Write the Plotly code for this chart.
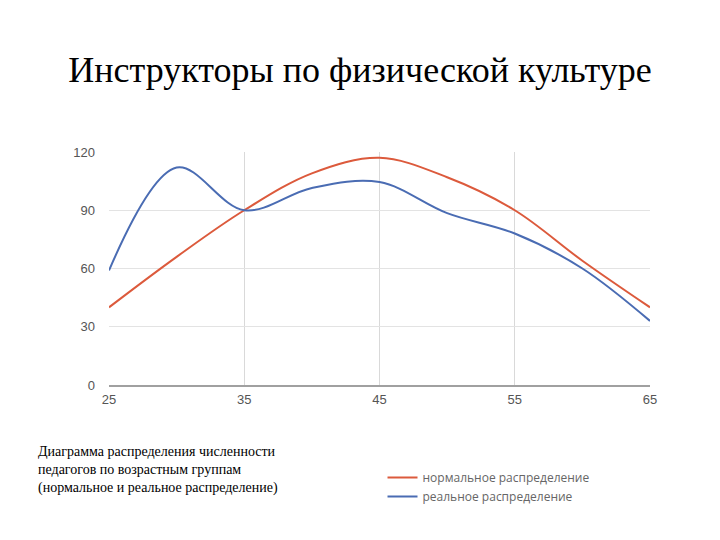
import plotly.graph_objects as go

ages = [25, 30, 35, 40, 45, 50, 55, 60, 65]
normal = [40, 66, 90, 109, 117, 107, 90, 64, 40]
real = [59, 112, 90, 101.5, 104.5, 88.5, 78, 60, 33]
x_ticks = [25, 35, 45, 55, 65]
y_ticks = [0, 30, 60, 90, 120]

title_text = "Инструкторы по физической культуре"
caption_lines = [
    "Диаграмма распределения численности",
    "педагогов по возрастным группам",
    "(нормальное и реальное распределение)",
]
name_normal = "нормальное распределение"
name_real = "реальное распределение"

# page body has 8px margin -> figure coordinates = screen - 8
L, R, T, B = 101, 78, 144, 163
W, H = 720, 540
PW = W - L - R
PH = H - T - B

fig = go.Figure()
fig.add_trace(go.Scatter(x=ages, y=normal, mode="lines", name=name_normal,
                         line=dict(color="#dc5a3c", width=2, shape="spline", smoothing=1)))
fig.add_trace(go.Scatter(x=ages, y=real, mode="lines", name=name_real,
                         line=dict(color="#4a6cb3", width=2, shape="spline", smoothing=1)))

fig.update_layout(
    width=W, height=H,
    margin=dict(l=L, r=R, t=T, b=B),
    paper_bgcolor="white", plot_bgcolor="white",
    title=dict(text=title_text, x=(360 - 8) / W, xanchor="center", y=1 - 61 / H, yanchor="middle",
               font=dict(family="Liberation Serif", size=36, color="black")),
    xaxis=dict(range=[25, 65], tickvals=x_ticks, showgrid=True, gridcolor="#d9d9d9",
               zeroline=False, showline=True, linecolor="#a0a0a0", linewidth=1.5,
               tickfont=dict(family="Liberation Sans", size=13, color="#555555"),
               ticks="", ticklabelstandoff=2),
    yaxis=dict(range=[0, 120], tickvals=y_ticks, showgrid=True, gridcolor="#e3e3e3",
               zeroline=False, showline=False,
               tickfont=dict(family="Liberation Sans", size=13, color="#555555"),
               ticks="", ticklabelstandoff=13),
    legend=dict(x=364 / W, y=1 - 455 / H, yref="container",
                xanchor="left", yanchor="top",
                font=dict(family="Open Sans", size=12, color="#666666"),
                itemwidth=30, tracegroupgap=0),
    showlegend=True,
)

fig.add_annotation(text="<br>".join(caption_lines), xref="paper", yref="paper",
                   x=-(L - 28) / PW, y=-(434 - (T + PH)) / PH, xanchor="left", yanchor="top",
                   align="left", showarrow=False,
                   font=dict(family="Liberation Serif", size=14, color="black"))

fig.write_html("out.html")
